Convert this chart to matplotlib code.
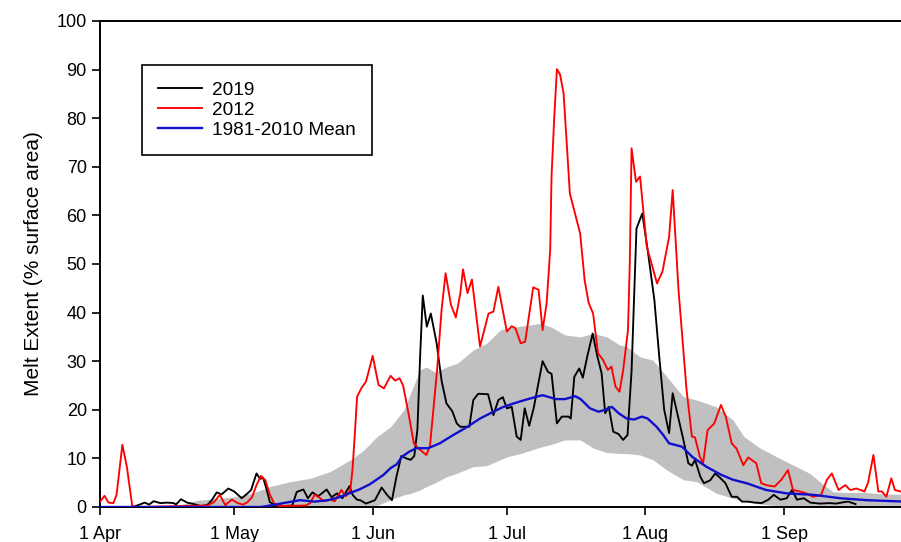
import numpy as np
import matplotlib
matplotlib.use("Agg")
import matplotlib.pyplot as plt

plt.rcParams['font.family'] = ['Liberation Sans', 'DejaVu Sans']

# day 0 = 1 April
month_days = [0, 30, 61, 91, 122, 153]
month_labels = ['1 Apr', '1 May', '1 Jun', '1 Jul', '1 Aug', '1 Sep']

# 2019 melt extent (% of surface)
days_2019 = [8, 10, 11, 12, 13.5, 15, 16.5, 17, 18.1, 19.5, 21, 22.5, 24, 25, 26.1, 27.2,
             28.7, 30, 31.7, 33, 33.8, 34.5, 35, 35.8, 36.5, 37.3, 38, 39, 41, 43, 44, 45.5,
             46.5, 47.5, 48.8, 50.7, 51.8, 53, 54.2, 55.8, 56.5, 57.5, 58.2, 59.5, 61.5, 63,
             64.2, 65.3, 66.3, 67.4, 68.5, 69.5, 70.3, 71, 71.6, 72.2, 73.1, 74, 75.3, 76.4,
             77.5, 78.8, 79.8, 80.6, 82.6, 83.5, 84.6, 86.8, 88, 89.1, 90.1, 91, 92.1, 93.2,
             94.1, 95, 96, 97, 98, 99, 100.2, 101, 102.2, 103.3, 104.8, 105.3, 106.1, 107.2,
             108, 109, 110.2, 111.2, 112.2, 113, 113.8, 114.8, 116, 117, 118, 118.9, 120,
             121.3, 122.5, 124, 125.1, 126.2, 127.3, 128.1, 129.3, 130.5, 131.6, 132.4, 133.1,
             134.3, 135.1, 136.5, 137.6, 138.7, 139.9, 141.3, 142.5, 143.6, 145, 146.5, 148,
             149.5, 150.7, 152.2, 153.6, 154.8, 155.9, 157.4, 158.9, 161, 163.2, 164.7, 166.4,
             167.4, 169]
melt_2019 = [0.2, 0.9, 0.5, 1.2, 0.8, 0.9, 0.8, 0.5, 1.6, 0.9, 0.6, 0.2, 0.4, 1.4, 3.0, 2.6,
             3.8, 3.2, 1.8, 2.8, 3.5, 5.5, 6.9, 5.8, 6.0, 3.5, 1.0, 0.5, 0.2, 0.3, 3.1, 3.6,
             1.8, 3.0, 2.2, 3.6, 2.0, 2.8, 1.8, 4.3, 2.5, 1.5, 1.4, 0.7, 1.4, 4.0,
             2.5, 1.4, 6.2, 10.5, 10.0, 9.7, 10.5, 16.0, 30.9, 43.5, 37.1, 39.8, 33.7, 26.0,
             21.3, 19.7, 17.2, 16.5, 16.5, 22.0, 23.3, 23.2, 18.9, 22.0, 22.6, 20.3, 20.6, 14.5,
             13.8, 20.3, 16.7, 20.3, 25.1, 30.0, 27.8, 27.4, 17.2, 18.6, 18.6, 18.2, 26.8, 28.5,
             26.6, 31.0, 35.7, 31.2, 27.5, 19.3, 20.6, 15.5, 15.0, 13.8, 14.8, 28.0, 57.3,
             60.4, 52.9, 42.6, 30.9, 20.0, 15.2, 23.4, 18.6, 13.8, 9.0, 8.5, 9.7,
             6.2, 4.9, 5.5, 6.9, 6.0, 4.9, 2.1, 2.1, 1.1, 1.1, 0.9, 0.8,
             1.5, 2.5, 1.5, 1.8, 3.5, 1.5, 1.8, 0.9, 0.7, 0.8, 0.7, 1.0,
             1.1, 0.6]

# 2012 melt extent
days_2012 = [0, 1, 1.9, 3, 3.7, 5, 6, 7.2, 8, 24, 25.5, 26.8, 28, 29.5, 30.8, 32, 33, 34, 35,
             36, 37, 38, 39, 40, 46, 47, 48, 49, 50, 51.5, 52.5, 54, 55, 56, 56.5, 57, 57.5,
             58.5, 59.5, 61, 62.3, 63.5, 65, 66, 67, 67.8, 69, 70.2, 71.3, 73, 73.8, 75.4,
             76.4, 77.3, 78.5, 79.6, 80.6, 81.2, 82.2, 83.2, 85, 86.9, 88, 89.1, 91, 92.1,
             92.9, 94.1, 95.1, 96.9, 98.1, 99, 99.9, 100.7, 101, 101.6, 102.2, 102.9, 103.7,
             104.4, 105.1, 107.4, 108.4, 109.3, 110.3, 111.4, 112.5, 113.6, 114.4, 115.3,
             116.2, 117, 118.1, 118.5, 118.9, 119.9, 120.8, 122.3, 124.6, 125.8, 127.3, 128.1,
             129.4, 131.2, 132.4, 133.1, 134.2, 134.9, 135.9, 137.4, 138.9, 140, 141.3, 142.4,
             143.9, 145, 146.8, 147.9, 149, 150.9, 152.4, 153.9, 155, 156.5, 158, 159.5, 161.3,
             162.6, 163.7, 165.2, 166.7, 167.8, 169.2, 171, 171.8, 173, 174.1, 174.9, 175.9,
             177, 177.8, 179]
melt_2012 = [1.1, 2.3, 0.9, 0.8, 2.5, 12.8, 8.3, 0.3, 0.0, 0.3, 1.0, 2.5, 0.4, 1.5, 0.8, 0.5,
             1.0, 2.0, 4.5, 6.4, 5.5, 2.5, 0.7, 0.2, 0.3, 0.8, 2.5, 2.0, 1.2, 1.5, 1.2, 3.5,
             2.2, 3.5, 8.0, 15.0, 22.7, 24.5, 25.8, 31.1, 25.1, 24.4, 27.0, 26.0, 26.5, 25.0,
             19.3, 13.1, 12.0, 10.7, 12.5, 28.2, 40.5, 48.1, 41.6, 39.0, 44.0, 48.9, 44.0, 46.8,
             33.0, 39.8, 40.2, 45.3, 36.1, 37.2, 36.8, 33.7, 34.0, 45.2, 44.7, 36.4, 41.9, 52.9,
             68.0, 80.0, 90.1, 89.0, 85.1, 74.8, 64.5, 56.3, 46.7, 42.0, 39.8, 31.6, 30.3, 28.2,
             28.9, 24.8, 23.7, 28.0, 36.4, 50.0, 73.8, 66.9, 68.0, 53.6, 46.0, 48.4, 55.6, 65.2,
             44.7, 24.1, 14.5, 14.3, 10.3, 9.0, 15.8, 17.2, 21.0, 18.5, 13.1, 12.0, 8.6, 10.2,
             9.0, 4.9, 4.5, 4.2, 5.6, 7.6, 3.5, 3.2, 2.8, 2.1, 2.5, 5.6, 6.9, 3.5, 4.5, 3.5,
             3.8, 3.2, 5.0, 10.7, 3.2, 3.2, 2.1, 5.9, 3.5, 3.2]

# 1981-2010 mean
days_mean = [0, 36, 38, 41, 44.7, 48, 51, 53.5, 56, 58, 60.4, 63.4, 65, 66.4, 67.5, 69.2, 70.8,
             73.4, 76, 79, 82, 85, 88, 90, 92.5, 95, 97.7, 99, 100.5, 102, 104, 106.3, 107.5,
             109.6, 111.5, 113, 114.5, 116, 117.8, 119.5, 121.2, 122.5, 124.5, 126, 127.3,
             130.2, 132.5, 135.6, 139, 141.6, 144.6, 149, 153.6, 159.6, 165.6, 171.5, 183]
melt_mean = [0.0, 0.0, 0.3, 0.8, 1.4, 1.1, 1.4, 2.0, 2.9, 3.6, 4.7, 6.6, 8.0, 8.8, 10.3, 11.4,
             12.1, 12.1, 13.1, 14.8, 16.4, 18.2, 19.6, 20.5, 21.3, 22.0, 22.7, 23.0, 22.6, 22.2,
             22.2, 22.8, 22.2, 20.3, 19.6, 20.0, 20.6, 19.3, 18.2, 18.0, 18.6, 18.2, 16.5, 14.8,
             13.1, 12.4, 10.3, 8.3, 6.6, 5.6, 4.9, 3.5, 2.8, 2.5, 1.8, 1.4, 1.0]

# interdecile range of 1981-2010
days_band = [14, 18, 22, 26, 30, 34, 38, 42.5, 47, 51.5, 56, 59, 62, 65, 68, 69.5, 71.6, 73,
             75, 77.5, 80, 83.5, 86.5, 89.5, 91, 94, 96.5, 98.5, 101, 104, 107.4, 110.4,
             113.4, 116.3, 117.8, 120.8, 123.7, 126.8, 130.5, 133.5, 137.9, 141.6, 144, 147.7,
             151.4, 155.1, 158.8, 161.4, 164, 167, 171, 175, 183]
band_upper = [0.0, 0.5, 1.4, 1.7, 2.1, 2.8, 4.2, 5.2, 5.9, 7.3, 9.7, 11.7, 14.5, 16.5, 20.0,
              23.5, 28.2, 28.8, 27.7, 28.8, 29.6, 32.3, 33.7, 36.4, 36.8, 37.2, 37.5, 37.8,
              37.0, 35.4, 35.0, 35.7, 35.0, 33.3, 33.0, 30.9, 30.2, 26.8, 22.7, 22.0, 20.6,
              17.9, 14.5, 12.1, 10.3, 8.6, 6.9, 4.9, 3.1, 3.0, 3.0, 2.7, 2.5]
band_lower = [0, 0, 0, 0, 0, 0, 0, 0, 0, 0, 0, 0, 0.3, 1.5, 2.5, 2.8, 3.5, 4.2,
              5.0, 6.2, 7.0, 8.3, 8.5, 9.7, 10.3, 11.0, 11.7, 12.3, 12.9, 13.8, 13.8, 12.1,
              11.2, 11.0, 11.0, 10.7, 9.7, 7.6, 5.6, 5.2, 2.8, 1.8, 1.1, 0.6,
              0.3, 0, 0, 0, 0, 0, 0, 0, 0]

fig = plt.figure(figsize=(9.01, 5.42), dpi=100)
ax = fig.add_axes([0.111, 0.0646, 0.908, 0.8967])

ax.fill_between(days_band, band_lower, band_upper, color='#c0c0c0', lw=0, zorder=1)
ax.plot(days_2019, melt_2019, color='black', lw=1.35, label='2019', zorder=3)
ax.plot(days_2012, melt_2012, color='#ff0000', lw=1.35, label='2012', zorder=3)
ax.plot(days_mean, melt_mean, color='#1010cc', lw=1.7, label='1981-2010 Mean', zorder=4)

ax.set_xlim(0, 183)
ax.set_ylim(0, 100)
ax.set_xticks(month_days)
ax.set_xticklabels(month_labels)
ax.set_yticks(np.arange(0, 101, 10))
ax.tick_params(direction='out', length=6, width=1.2, labelsize=13, top=False, right=False)
ax.tick_params(axis='x', pad=8)
for s in ax.spines.values():
    s.set_linewidth(1.4)
ax.set_ylabel('Melt Extent (% surface area)', fontsize=15, labelpad=10)

leg = ax.legend(loc='upper left', bbox_to_anchor=(0.051, 0.909), borderaxespad=0,
                fancybox=False, edgecolor='black', framealpha=1, fontsize=13.7,
                handlelength=2.3, handletextpad=0.55, labelspacing=0.15, borderpad=0.85)
leg.get_frame().set_linewidth(1.2)

fig.savefig('out.png', dpi=100)
